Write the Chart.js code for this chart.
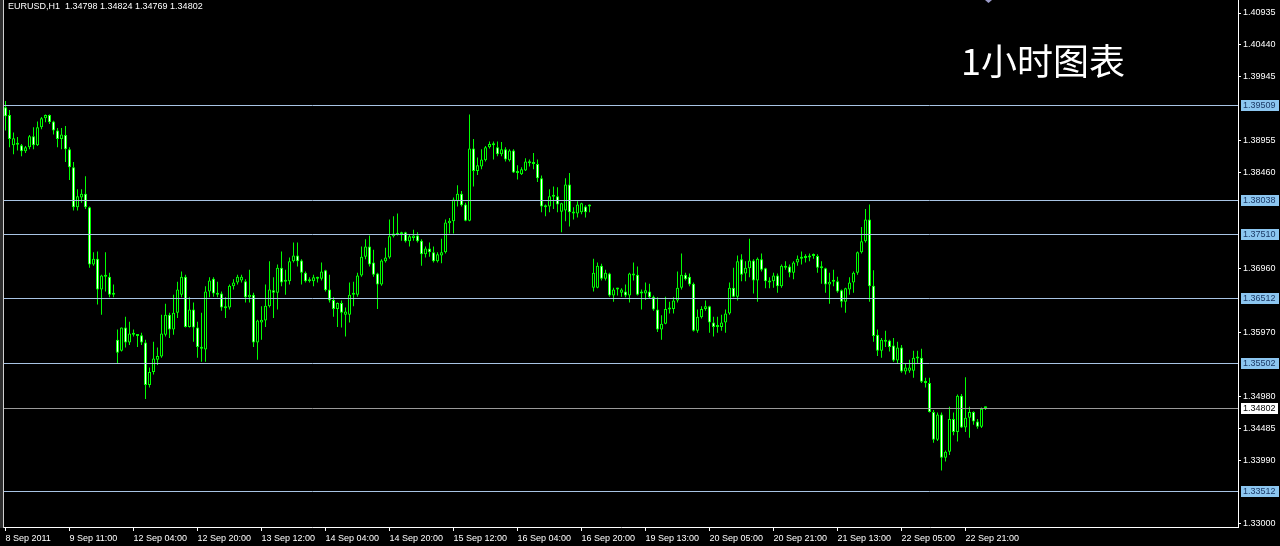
<!DOCTYPE html>
<html>
<head>
<meta charset="utf-8">
<title>EURUSD H1</title>
<script src="https://cdn.jsdelivr.net/npm/chart.js@4.4.1/dist/chart.umd.min.js"></script>
<style>
  html, body { margin: 0; padding: 0; background: #000; }
  #wrap { width: 1280px; height: 546px; }
</style>
</head>
<body>
<div id="wrap"><canvas id="c" width="1280" height="546"></canvas></div>
<script>
////////// EURUSD H1 candles, 8 Sep 2011 -> 22 Sep 2011 //////////
const opens = [
  1.3947,1.3935,1.3888,1.3890,1.3888,1.3879,1.3885,1.3902,1.3888,1.3916,
  1.3930,1.3935,1.3925,1.3911,1.3898,1.3904,1.3882,1.3854,1.3792,1.3807,
  1.3813,1.3792,1.3703,1.3712,1.3664,1.3686,1.3684,1.3656,1.3586,1.3569,
  1.3605,1.3582,1.3596,1.3593,1.3593,1.3582,1.3516,1.3536,1.3555,1.3560,
  1.3594,1.3625,1.3602,1.3628,1.3656,1.3684,1.3606,1.3633,1.3605,1.3575,
  1.3571,1.3661,1.3681,1.3659,1.3658,1.3637,1.3636,1.3669,1.3675,1.3678,
  1.3677,1.3652,1.3656,1.3582,1.3613,1.3616,1.3638,1.3663,1.3659,1.3698,
  1.3677,1.3677,1.3708,1.3717,1.3709,1.3690,1.3678,1.3677,1.3683,1.3681,
  1.3694,1.3664,1.3648,1.3634,1.3643,1.3625,1.3625,1.3656,1.3656,1.3686,
  1.3715,1.3731,1.3706,1.3689,1.3672,1.3708,1.3714,1.3747,1.3750,1.3751,
  1.3753,1.3739,1.3744,1.3748,1.3740,1.3719,1.3728,1.3722,1.3708,1.3717,
  1.3722,1.3767,1.3770,1.3801,1.3813,1.3796,1.3771,1.3883,1.3848,1.3855,
  1.3865,1.3885,1.3888,1.3885,1.3874,1.3882,1.3865,1.3880,1.3846,1.3843,
  1.3849,1.3860,1.3860,1.3859,1.3837,1.3793,1.3793,1.3809,1.3809,1.3785,
  1.3787,1.3827,1.3784,1.3782,1.3784,1.3793,1.3793,1.3667,1.3667,1.3701,
  1.3681,1.3689,1.3655,1.3664,1.3659,1.3661,1.3655,1.3687,1.3687,1.3659,
  1.3658,1.3661,1.3653,1.3633,1.3602,1.3611,1.3634,1.3634,1.3647,1.3667,
  1.3687,1.3684,1.3673,1.3600,1.3621,1.3634,1.3638,1.3613,1.3606,1.3606,
  1.3613,1.3627,1.3667,1.3653,1.3711,1.3689,1.3697,1.3709,1.3678,1.3711,
  1.3697,1.3677,1.3677,1.3686,1.3669,1.3698,1.3700,1.3690,1.3706,1.3712,
  1.3714,1.3714,1.3717,1.3716,1.3698,1.3697,1.3672,1.3676,1.3677,1.3663,
  1.3645,1.3664,1.3675,1.3690,1.3722,1.3739,1.3773,1.3670,1.3594,1.3569,
  1.3586,1.3585,1.3577,1.3554,1.3574,1.3537,1.3538,1.3538,1.3558,1.3558,
  1.3521,1.3519,1.3474,1.3431,1.3470,1.3403,1.3412,1.3463,1.3443,1.3499,
  1.3450,1.3465,1.3474,1.3459,1.3451,1.34798
];
const highs = [
  1.3957,1.3943,1.3908,1.3901,1.3890,1.3887,1.3904,1.3916,1.3925,1.3932,
  1.3936,1.3936,1.3926,1.3915,1.3915,1.3918,1.3885,1.3862,1.3820,1.3820,
  1.3840,1.3793,1.3722,1.3723,1.3687,1.3722,1.3690,1.3672,1.3602,1.3605,
  1.3622,1.3614,1.3602,1.3594,1.3597,1.3586,1.3543,1.3583,1.3574,1.3625,
  1.3642,1.3628,1.3656,1.3676,1.3692,1.3687,1.3652,1.3644,1.3614,1.3628,
  1.3669,1.3683,1.3683,1.3676,1.3661,1.3652,1.3672,1.3680,1.3687,1.3687,
  1.3680,1.3695,1.3659,1.3617,1.3638,1.3672,1.3708,1.3683,1.3703,1.3723,
  1.3695,1.3714,1.3737,1.3737,1.3711,1.3692,1.3683,1.3687,1.3684,1.3706,
  1.3695,1.3687,1.3652,1.3644,1.3647,1.3636,1.3675,1.3676,1.3690,1.3731,
  1.3742,1.3748,1.3726,1.3690,1.3711,1.3729,1.3773,1.3778,1.3782,1.3754,
  1.3754,1.3750,1.3757,1.3753,1.3742,1.3731,1.3737,1.3731,1.3722,1.3743,
  1.3773,1.3775,1.3807,1.3826,1.3817,1.3799,1.3936,1.3898,1.3869,1.3882,
  1.3887,1.3894,1.3894,1.3894,1.3893,1.3885,1.3882,1.3882,1.3857,1.3854,
  1.3868,1.3866,1.3876,1.3866,1.3841,1.3796,1.3820,1.3824,1.3823,1.3799,
  1.3837,1.3845,1.3792,1.3801,1.3799,1.3795,1.3796,1.3712,1.3706,1.3704,
  1.3695,1.3690,1.3667,1.3667,1.3666,1.3672,1.3690,1.3706,1.3700,1.3664,
  1.3675,1.3673,1.3655,1.3652,1.3624,1.3653,1.3645,1.3652,1.3692,1.3720,
  1.3690,1.3689,1.3675,1.3633,1.3638,1.3647,1.3639,1.3622,1.3622,1.3625,
  1.3633,1.3675,1.3698,1.3717,1.3719,1.3708,1.3743,1.3711,1.3714,1.3720,
  1.3698,1.3683,1.3690,1.3689,1.3703,1.3708,1.3703,1.3708,1.3717,1.3723,
  1.3719,1.3720,1.3720,1.3719,1.3708,1.3698,1.3690,1.3695,1.3684,1.3664,
  1.3667,1.3683,1.3692,1.3723,1.3761,1.3789,1.3796,1.3694,1.3602,1.3589,
  1.3600,1.3586,1.3589,1.3583,1.3578,1.3550,1.3555,1.3569,1.3569,1.3572,
  1.3527,1.3527,1.3477,1.3473,1.3473,1.3414,1.3482,1.3473,1.3501,1.3502,
  1.3528,1.3482,1.3475,1.3463,1.3481,1.34824
];
const lows = [
  1.3911,1.3885,1.3874,1.3880,1.3871,1.3876,1.3882,1.3882,1.3887,1.3913,
  1.3924,1.3921,1.3905,1.3885,1.3882,1.3862,1.3834,1.3787,1.3787,1.3799,
  1.3789,1.3698,1.3701,1.3641,1.3625,1.3661,1.3652,1.3652,1.3550,1.3568,
  1.3574,1.3578,1.3591,1.3575,1.3578,1.3494,1.3512,1.3532,1.3547,1.3558,
  1.3591,1.3589,1.3594,1.3620,1.3652,1.3605,1.3605,1.3583,1.3558,1.3552,
  1.3552,1.3652,1.3653,1.3652,1.3631,1.3620,1.3633,1.3664,1.3672,1.3675,
  1.3644,1.3644,1.3575,1.3555,1.3586,1.3606,1.3636,1.3620,1.3633,1.3669,
  1.3656,1.3672,1.3706,1.3700,1.3672,1.3675,1.3675,1.3669,1.3675,1.3678,
  1.3661,1.3644,1.3622,1.3606,1.3605,1.3591,1.3613,1.3638,1.3653,1.3684,
  1.3711,1.3700,1.3684,1.3634,1.3670,1.3706,1.3712,1.3745,1.3748,1.3740,
  1.3737,1.3731,1.3740,1.3737,1.3701,1.3714,1.3715,1.3706,1.3706,1.3705,
  1.3720,1.3751,1.3751,1.3793,1.3793,1.3770,1.3770,1.3824,1.3842,1.3851,
  1.3863,1.3883,1.3866,1.3871,1.3871,1.3863,1.3863,1.3845,1.3835,1.3842,
  1.3848,1.3855,1.3851,1.3831,1.3784,1.3778,1.3784,1.3789,1.3784,1.3753,
  1.3770,1.3762,1.3773,1.3776,1.3781,1.3776,1.3784,1.3661,1.3666,1.3678,
  1.3678,1.3653,1.3645,1.3655,1.3653,1.3652,1.3644,1.3678,1.3655,1.3633,
  1.3648,1.3650,1.3631,1.3598,1.3586,1.3610,1.3627,1.3627,1.3644,1.3664,
  1.3678,1.3669,1.3599,1.3597,1.3619,1.3631,1.3597,1.3591,1.3597,1.3600,
  1.3597,1.3625,1.3652,1.3647,1.3677,1.3677,1.3683,1.3658,1.3645,1.3692,
  1.3666,1.3666,1.3667,1.3659,1.3667,1.3695,1.3683,1.3680,1.3701,1.3703,
  1.3706,1.3708,1.3712,1.3690,1.3673,1.3659,1.3642,1.3669,1.3659,1.3636,
  1.3628,1.3656,1.3659,1.3687,1.3720,1.3737,1.3645,1.3583,1.3561,1.3558,
  1.3575,1.3568,1.3552,1.3549,1.3535,1.3532,1.3535,1.3527,1.3550,1.3519,
  1.3512,1.3473,1.3426,1.3429,1.3383,1.3397,1.3407,1.3438,1.3428,1.3449,
  1.3443,1.3434,1.3454,1.3448,1.3449,1.34769
];
const closes = [
  1.3933,1.3898,1.3899,1.3889,1.3879,1.3885,1.3902,1.3888,1.3916,1.3930,
  1.3935,1.3924,1.3911,1.3898,1.3905,1.3882,1.3854,1.3792,1.3809,1.3813,
  1.3792,1.3703,1.3712,1.3664,1.3686,1.3684,1.3656,1.3659,1.3566,1.3605,
  1.3582,1.3596,1.3594,1.3592,1.3582,1.3516,1.3536,1.3557,1.3561,1.3596,
  1.3625,1.3602,1.3628,1.3664,1.3684,1.3606,1.3633,1.3605,1.3575,1.3572,
  1.3661,1.3678,1.3658,1.3656,1.3636,1.3635,1.3670,1.3675,1.3684,1.3684,
  1.3652,1.3656,1.3582,1.3616,1.3617,1.3639,1.3664,1.3659,1.3698,1.3675,
  1.3676,1.3708,1.3717,1.3708,1.3690,1.3677,1.3677,1.3683,1.3681,1.3692,
  1.3663,1.3647,1.3634,1.3643,1.3628,1.3630,1.3656,1.3658,1.3686,1.3715,
  1.3731,1.3703,1.3687,1.3672,1.3709,1.3714,1.3747,1.3751,1.3749,1.3750,
  1.3739,1.3747,1.3748,1.3739,1.3719,1.3728,1.3722,1.3708,1.3719,1.3722,
  1.3768,1.3771,1.3804,1.3813,1.3795,1.3771,1.3883,1.3848,1.3857,1.3866,
  1.3885,1.3890,1.3890,1.3874,1.3882,1.3866,1.3880,1.3846,1.3845,1.3851,
  1.3863,1.3863,1.3859,1.3837,1.3793,1.3792,1.3809,1.3808,1.3796,1.3798,
  1.3827,1.3784,1.3782,1.3796,1.3798,1.3784,1.3796,1.3690,1.3701,1.3681,
  1.3690,1.3655,1.3664,1.3665,1.3664,1.3655,1.3689,1.3686,1.3656,1.3658,
  1.3663,1.3652,1.3633,1.3602,1.3611,1.3634,1.3633,1.3647,1.3667,1.3687,
  1.3680,1.3672,1.3600,1.3622,1.3634,1.3638,1.3613,1.3606,1.3607,1.3613,
  1.3627,1.3667,1.3653,1.3708,1.3687,1.3698,1.3709,1.3678,1.3712,1.3695,
  1.3677,1.3675,1.3686,1.3669,1.3701,1.3701,1.3690,1.3706,1.3712,1.3714,
  1.3713,1.3717,1.3716,1.3698,1.3697,1.3672,1.3676,1.3677,1.3661,1.3645,
  1.3666,1.3675,1.3690,1.3722,1.3739,1.3773,1.3669,1.3592,1.3569,1.3586,
  1.3583,1.3575,1.3554,1.3574,1.3537,1.3543,1.3543,1.3558,1.3557,1.3521,
  1.3519,1.3474,1.3431,1.3470,1.3403,1.3412,1.3463,1.3443,1.3499,1.3450,
  1.3465,1.3474,1.3459,1.3451,1.3479,1.34802
];

// time axis labels (one every 16 bars)
const timeTickIdx = [0, 16, 32, 48, 64, 80, 96, 112, 128, 144, 160, 176, 192, 208, 224, 240];
const timeLabels = ['8 Sep 2011', '9 Sep 11:00', '12 Sep 04:00', '12 Sep 20:00', '13 Sep 12:00',
  '14 Sep 04:00', '14 Sep 20:00', '15 Sep 12:00', '16 Sep 04:00', '16 Sep 20:00',
  '19 Sep 13:00', '20 Sep 05:00', '20 Sep 21:00', '21 Sep 13:00', '22 Sep 05:00', '22 Sep 21:00'];

// price axis
const priceTicks = [1.40935, 1.40440, 1.39945, 1.38955, 1.38460, 1.36960, 1.35970, 1.34980, 1.34485, 1.33990, 1.33000];
const levels = [1.39509, 1.38038, 1.37510, 1.36512, 1.35502, 1.33512];
const bidPrice = 1.34802;

const titleText = 'EURUSD,H1  1.34798 1.34824 1.34769 1.34802';
const noteText = '1小时图表';

const wicks = highs.map((h, i) => ({x: i, y: [lows[i], h]}));
const bodies = opens.map((o, i) => ({x: i, y: [o, closes[i]]}));
const bodyFill = opens.map((o, i) => closes[i] >= o ? '#000000' : '#ffffff');

const smallFont = {family: 'Liberation Sans', size: 9};

////// overlay: level lines, price boxes, titles, frame //////
const mtOverlay = {
  id: 'mtOverlay',
  afterDatasetsDraw(chart) {
    const {ctx, chartArea: a, scales: {y}} = chart;
    ctx.save();
    ctx.lineWidth = 1;
    ctx.strokeStyle = '#a8c4e4';
    levels.forEach(v => {
      const py = Math.round(y.getPixelForValue(v)) + 0.5;
      ctx.beginPath(); ctx.moveTo(a.left, py); ctx.lineTo(a.right, py); ctx.stroke();
    });
    ctx.strokeStyle = '#9a9a9a';
    const by = Math.round(y.getPixelForValue(bidPrice)) + 0.5;
    ctx.beginPath(); ctx.moveTo(a.left, by); ctx.lineTo(a.right, by); ctx.stroke();
    ctx.restore();
  },
  afterDraw(chart) {
    const {ctx, chartArea: a, scales: {y}} = chart;
    ctx.save();
    // left frame
    ctx.fillStyle = '#2e2e2e';
    ctx.fillRect(0, 0, 3, a.bottom + 1);
    ctx.strokeStyle = '#d0d0d0';
    ctx.lineWidth = 1;
    ctx.beginPath(); ctx.moveTo(3.5, 0); ctx.lineTo(3.5, a.bottom + 1); ctx.stroke();

    // price boxes on the axis
    ctx.font = '9px "Liberation Sans"';
    ctx.textBaseline = 'middle';
    ctx.textAlign = 'left';
    levels.forEach(v => {
      const py = Math.round(y.getPixelForValue(v));
      ctx.fillStyle = '#8cc6f0';
      ctx.fillRect(a.right + 3, py - 5, 38, 11);
      ctx.fillStyle = '#1c3a66';
      ctx.fillText(v.toFixed(5), a.right + 5, py + 0.5);
    });
    const bpy = Math.round(y.getPixelForValue(bidPrice));
    ctx.fillStyle = '#ffffff';
    ctx.fillRect(a.right + 3, bpy - 5, 37, 11);
    ctx.fillStyle = '#000000';
    ctx.fillText(bidPrice.toFixed(5), a.right + 5, bpy + 0.5);

    // symbol line
    ctx.fillStyle = '#ffffff';
    ctx.fillText(titleText, 8, 7);

    // chinese note
    ctx.font = '36px "Noto Sans CJK SC"';
    ctx.fillText(noteText, 961, 61);

    // small marker at the top
    ctx.fillStyle = '#9a9ac8';
    ctx.beginPath(); ctx.moveTo(985, 0); ctx.lineTo(992, 0); ctx.lineTo(988.5, 3); ctx.closePath(); ctx.fill();
    ctx.restore();
  }
};

new Chart(document.getElementById('c'), {
  type: 'bar',
  data: {
    datasets: [
      {
        data: bodies,
        backgroundColor: bodyFill,
        borderColor: '#00ff00',
        borderWidth: 1,
        borderSkipped: false,
        inflateAmount: 0,
        barThickness: 3,
        minBarLength: 2,
        grouped: false,
        order: 0
      },
      {
        data: wicks,
        backgroundColor: '#00ff00',
        borderWidth: 0,
        inflateAmount: 0,
        barThickness: 1,
        grouped: false,
        order: 1
      }
    ]
  },
  options: {
    responsive: false,
    animation: false,
    devicePixelRatio: 1,
    events: [],
    layout: { padding: { left: 4, top: 0, right: 0, bottom: 0 } },
    plugins: { legend: { display: false }, tooltip: { enabled: false } },
    scales: {
      x: {
        type: 'linear',
        offset: false,
        min: -0.375,
        max: 308.125,
        afterBuildTicks: s => { s.ticks = timeTickIdx.map(v => ({value: v})); },
        afterFit: s => { s.height = 19; s.paddingLeft = 0; s.paddingRight = 0; },
        ticks: {
          autoSkip: false,
          maxRotation: 0,
          align: 'start',
          padding: 2,
          color: '#ffffff',
          font: smallFont,
          callback: (v, i) => timeLabels[i]
        },
        grid: { offset: false, drawOnChartArea: false, color: '#ffffff', tickLength: 4 },
        border: { color: '#ffffff' }
      },
      y: {
        position: 'right',
        min: 1.329534,
        max: 1.411369,
        afterBuildTicks: s => { s.ticks = priceTicks.map(v => ({value: v})); },
        afterFit: s => { s.width = 42; s.paddingTop = 0; s.paddingBottom = 0; },
        ticks: {
          autoSkip: false,
          padding: 2,
          color: '#ffffff',
          font: smallFont,
          callback: v => v.toFixed(5)
        },
        grid: { drawOnChartArea: false, color: '#ffffff', tickLength: 3 },
        border: { color: '#ffffff' }
      }
    }
  },
  plugins: [mtOverlay]
});
</script>
</body>
</html>
